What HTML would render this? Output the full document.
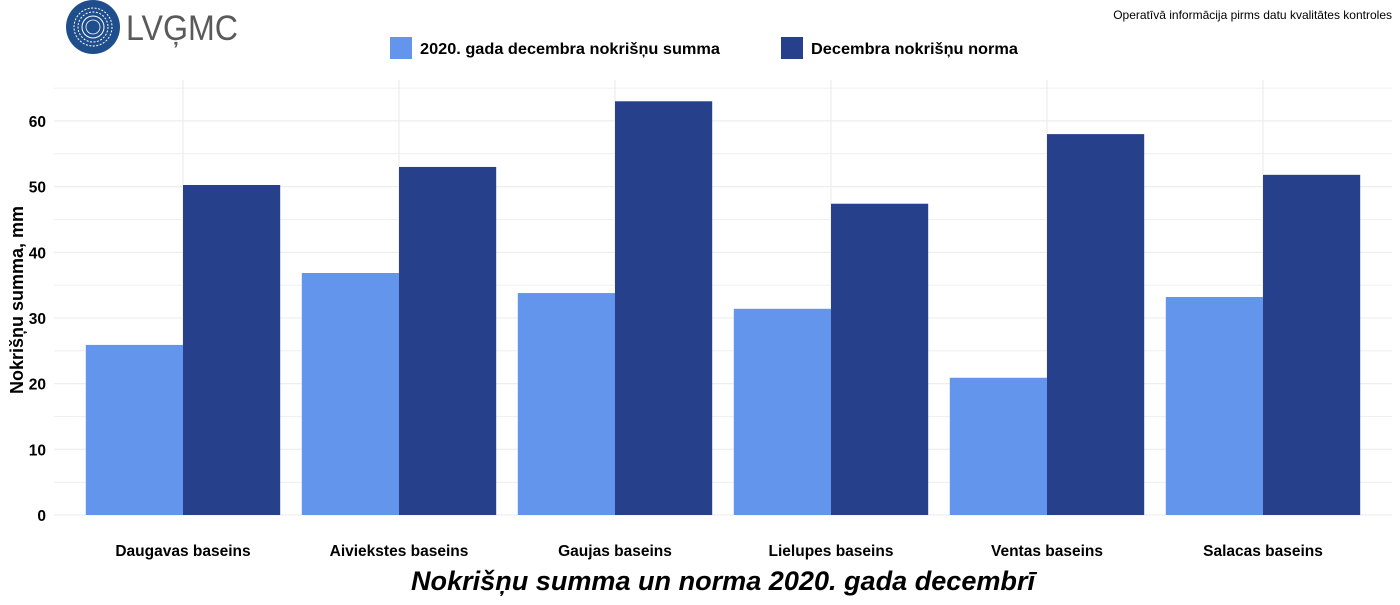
<!DOCTYPE html>
<html><head><meta charset="utf-8"><style>
body{margin:0;background:#fff;font-family:"Liberation Sans",sans-serif}
</style></head><body>
<svg width="1400" height="600" xmlns="http://www.w3.org/2000/svg" font-family="Liberation Sans, sans-serif">
<g>
<circle cx="93" cy="27" r="27" fill="#1f4e8c"/>
<circle cx="93" cy="27" r="19" fill="none" stroke="#fff" stroke-width="1" stroke-dasharray="2 1.5"/>
<circle cx="93" cy="27" r="15" fill="none" stroke="#fff" stroke-width="1" stroke-dasharray="2 1.5"/>
<circle cx="93" cy="27" r="11" fill="none" stroke="#fff" stroke-width="1"/>
<circle cx="93" cy="27" r="7" fill="none" stroke="#fff" stroke-width="0.8"/>
<text x="126" y="40" font-size="35" fill="#5a5a5a" textLength="112" lengthAdjust="spacingAndGlyphs">LVĢMC</text>
</g>
<text x="1392" y="19" font-size="12" text-anchor="end" fill="#000">Operatīvā informācija pirms datu kvalitātes kontroles</text>
<g>
<rect x="390" y="37" width="22" height="22" fill="#6495ed"/>
<text x="420" y="54" font-size="16" font-weight="bold" textLength="300" lengthAdjust="spacingAndGlyphs">2020. gada decembra nokrišņu summa</text>
<rect x="781" y="37" width="22" height="22" fill="#27408b"/>
<text x="811" y="54" font-size="16" font-weight="bold" textLength="207" lengthAdjust="spacingAndGlyphs">Decembra nokrišņu norma</text>
</g>
<g id="grid"></g><g id="bars"></g><g id="axes"></g>
<text x="23" y="300" font-size="18" font-weight="bold" text-anchor="middle" transform="rotate(-90 23 300)">Nokrišņu summa, mm</text>
<text x="723" y="590" font-size="27" font-weight="bold" font-style="italic" text-anchor="middle" textLength="624" lengthAdjust="spacingAndGlyphs">Nokrišņu summa un norma 2020. gada decembrī</text>
</svg>
<script>
const categories=["Daugavas baseins","Aiviekstes baseins","Gaujas baseins","Lielupes baseins","Ventas baseins","Salacas baseins"];
const actual=[25.9,36.85,33.8,31.4,20.9,33.2];
const norm=[50.25,53.0,63.0,47.4,58.0,51.8];
const yTicks=[0,10,20,30,40,50,60];
const NS="http://www.w3.org/2000/svg";
const x0=53.4,step=216,y0=515,ppu=6.567;
const xc=i=>x0+step*(i+0.6);
const y=v=>y0-v*ppu;
function mk(p,t,a){const e=document.createElementNS(NS,t);for(const k in a)e.setAttribute(k,a[k]);document.getElementById(p).appendChild(e);return e;}
for(let v=0;v<=65;v+=5){const l=mk('grid','line',{x1:54,x2:1392,y1:y(v),y2:y(v),stroke:'#ebebeb','stroke-width':v%10?0.8:1.1});

}
categories.forEach((c,i)=>{const l=mk('grid','line',{x1:xc(i),x2:xc(i),y1:80,y2:515,stroke:'#ebebeb','stroke-width':1.1});

});
const bw=97.2;
categories.forEach((c,i)=>{
const a=mk('bars','rect',{x:xc(i)-bw,y:y(actual[i]),width:bw,height:actual[i]*ppu,fill:'#6495ed'});


const n=mk('bars','rect',{x:xc(i),y:y(norm[i]),width:bw,height:norm[i]*ppu,fill:'#27408b'});


const t=mk('axes','text',{x:xc(i),y:556,'font-size':15.5,'font-weight':'bold','text-anchor':'middle'});
t.textContent=c;


});
yTicks.forEach(v=>{const t=mk('axes','text',{x:46,y:y(v)+6,'font-size':15.5,'font-weight':'bold','text-anchor':'end'});
t.textContent=v;

});
</script>
</body></html>
